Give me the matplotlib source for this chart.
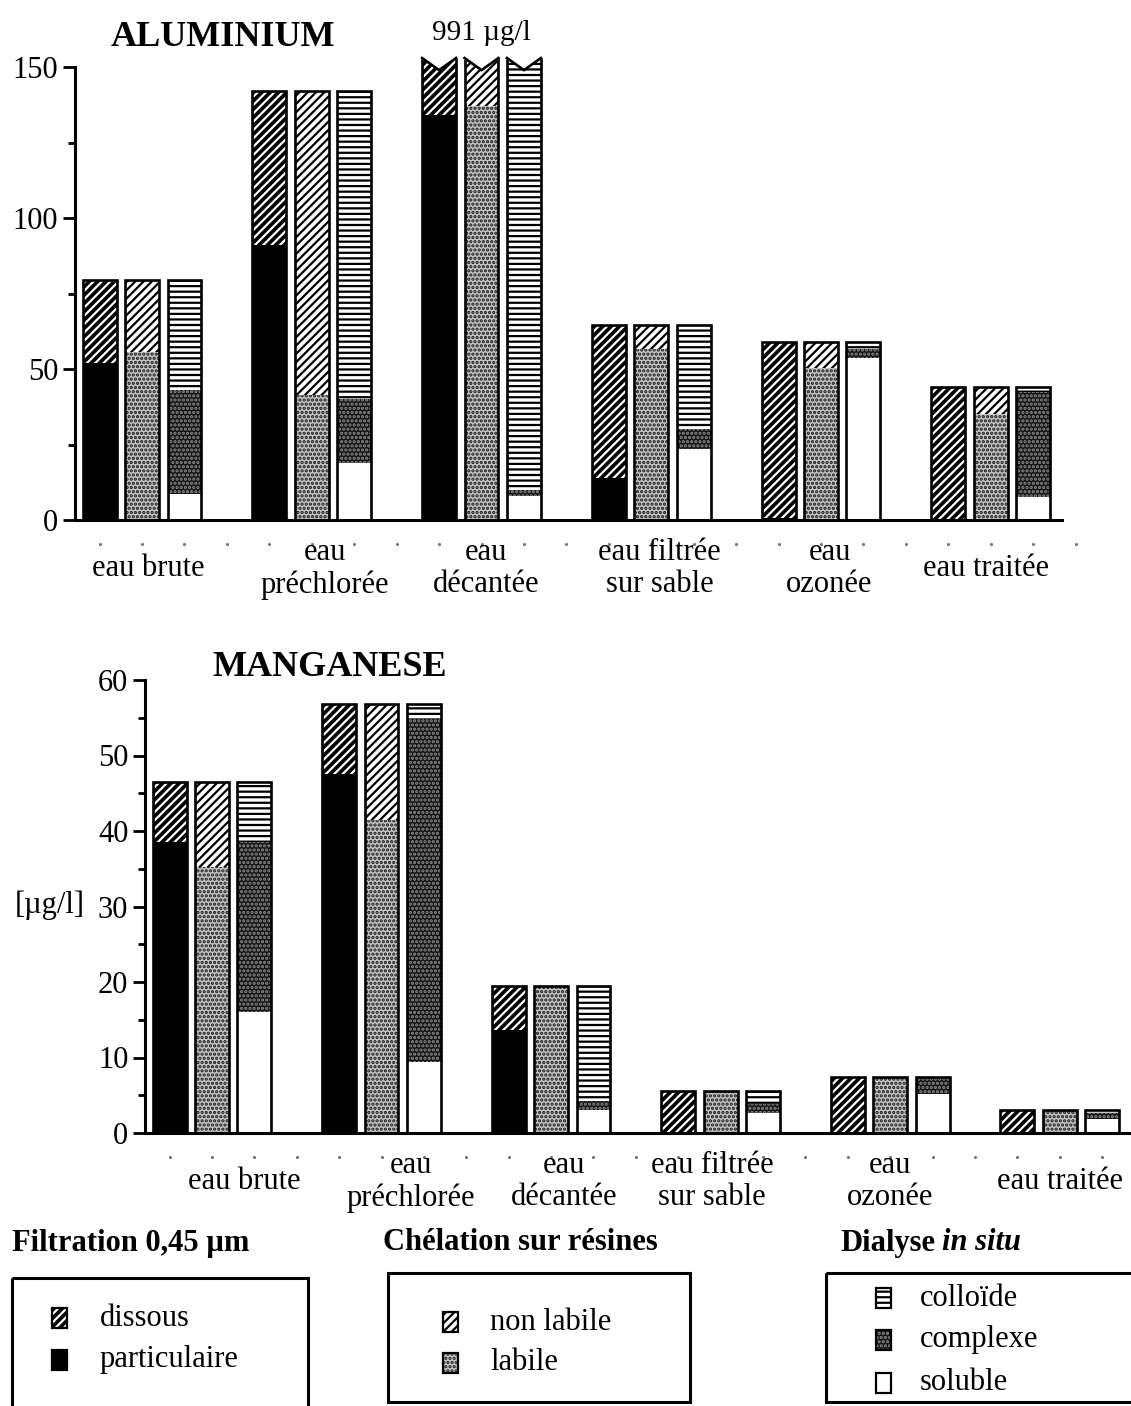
import numpy as np
import matplotlib
matplotlib.use("Agg")
import matplotlib.pyplot as plt
import matplotlib.transforms as mtransforms
from matplotlib.patches import Rectangle, Polygon
from matplotlib.ticker import MultipleLocator

plt.rcParams['font.family'] = ['Liberation Serif', 'DejaVu Serif']
plt.rcParams['hatch.linewidth'] = 1.6

stations = ['eau brute', 'eau\npréchlorée', 'eau\ndécantée',
            'eau filtrée\nsur sable', 'eau\nozonée', 'eau traitée']

# aluminium, µg/l  (eau décantée is off scale: 991 µg/l, drawn cut at the top)
al_particulaire = [52, 91, 134, 14, 0.5, 0]
al_dissous = [27.5, 51, 19, 50.5, 58.5, 44]
al_labile = [55.5, 41.5, 137, 56.5, 50.5, 35]
al_nonlabile = [24, 100.5, 16, 8, 8.5, 9]
al_soluble = [8.5, 19, 8, 23.5, 53.5, 7.5]
al_complexe = [34.5, 21, 2, 6.5, 3, 35]
al_colloide = [36.5, 102, 143, 34.5, 2.5, 1.5]
al_offscale_label = '991 µg/l'
al_offscale_idx = 2

# manganese, µg/l
mn_particulaire = [38.5, 47.5, 13.7, 0, 0, 0]
mn_dissous = [8, 9.3, 5.8, 5.5, 7.4, 3.1]
mn_labile = [35.2, 41.4, 19.5, 5.5, 7.4, 3.1]
mn_nonlabile = [11.3, 15.4, 0, 0, 0, 0]
mn_soluble = [16, 9.4, 3.1, 2.7, 5.2, 1.8]
mn_complexe = [22.6, 45.5, 1.2, 1.1, 2.2, 0.8]
mn_colloide = [7.9, 1.9, 15.2, 1.7, 0, 0.5]

styles = {
    'particulaire': dict(fc='black', hc='black', hatch=None),
    'dissous': dict(fc='black', hc='white', hatch='////'),
    'labile': dict(fc='#c4c4c4', hc='#1a1a1a', hatch='....'),
    'non labile': dict(fc='white', hc='black', hatch='////'),
    'soluble': dict(fc='white', hc='white', hatch=None),
    'complexe': dict(fc='#141414', hc='#8c8c8c', hatch='....'),
    'colloïde': dict(fc='white', hc='black', hatch='---'),
}

W, H = 1131, 1406
fig = plt.figure(figsize=(W / 100, H / 100), dpi=100)
bw = 0.8


def fx(px):
    return px / W


def fy(py):
    return 1 - py / H


def draw_bars(ax, methods):
    for j, layers in enumerate(methods):
        x = np.arange(len(stations)) * 4 + j
        bottom = np.zeros(len(stations))
        for name, vals in layers:
            st = styles[name]
            ax.bar(x, vals, bw, bottom=bottom, color=st['fc'], edgecolor=st['hc'],
                   hatch=st['hatch'], linewidth=0, zorder=2)
            bottom = bottom + np.array(vals)
        ax.bar(x, bottom, bw, fill=False, edgecolor='black', linewidth=1.9, zorder=3)


def style_axis(ax, ymax, major, minor, label_nudge):
    for s in ['top', 'right']:
        ax.spines[s].set_visible(False)
    ax.spines['left'].set_linewidth(2.2)
    ax.spines['bottom'].set_linewidth(2.2)
    ax.spines['left'].set_bounds(0, ymax)
    ax.set_yticks(np.arange(0, ymax + 1, major))
    ax.yaxis.set_minor_locator(MultipleLocator(minor))
    ax.tick_params(axis='y', which='major', length=9, width=2, labelsize=22, pad=3)
    ax.tick_params(axis='y', which='minor', length=5, width=2)
    ax.set_xticks([])
    ax.set_xlim(-0.58, 22.68)
    slots = np.arange(len(stations) * 4)
    dot_tr = mtransforms.offset_copy(ax.get_xaxis_transform(), fig=fig, y=-17, units='points')
    ax.plot(slots, np.zeros_like(slots), ls='none', marker='.', ms=2.5, color='#777777',
            transform=dot_tr, clip_on=False)
    lab_tr = mtransforms.offset_copy(ax.get_xaxis_transform(), fig=fig, y=-35, units='points')
    for g, name in enumerate(stations):
        ax.text(g * 4 + 1 + label_nudge[g], 0, name, transform=lab_tr, ha='center',
                va='center', fontsize=22, linespacing=1.15, multialignment='center')


# ---------------- ALUMINIUM ----------------
ax1 = fig.add_axes([fx(75), fy(520), fx(1062 - 75), (520 - 52) / H])
ax1.set_ylim(0, 155)
cut = 153
al_methods = [
    [('particulaire', al_particulaire), ('dissous', al_dissous)],
    [('labile', al_labile), ('non labile', al_nonlabile)],
    [('soluble', al_soluble), ('complexe', al_complexe), ('colloïde', al_colloide)],
]
draw_bars(ax1, al_methods)
style_axis(ax1, 150, 50, 25, [0.15, 0.3, 0.1, 0.2, 0.2, -0.1])

# broken tops for the off-scale group
for j in range(3):
    xc = al_offscale_idx * 4 + j
    l, r = xc - bw / 2, xc + bw / 2
    ax1.add_patch(Polygon([(l - 0.06, cut + 4), (l - 0.06, cut), (xc, cut - 4),
                           (r + 0.06, cut), (r + 0.06, cut + 4)], closed=True,
                          facecolor='white', edgecolor='none', zorder=4, clip_on=False))
    ax1.plot([l, xc, r], [cut, cut - 4, cut], color='black', lw=1.9, zorder=5,
             clip_on=False, solid_joinstyle='miter')
ax1.annotate(al_offscale_label, xy=(al_offscale_idx * 4 + 1, 155), xytext=(0, 14),
             textcoords='offset points', ha='center', va='center', fontsize=21,
             annotation_clip=False)

fig.text(fx(223), fy(38), 'ALUMINIUM', fontsize=26, fontweight='bold',
         ha='center', va='center')

# ---------------- MANGANESE ----------------
ax2 = fig.add_axes([fx(145), fy(1133), fx(1131 - 145), (1133 - 680) / H])
ax2.set_ylim(0, 60)
mn_methods = [
    [('particulaire', mn_particulaire), ('dissous', mn_dissous)],
    [('labile', mn_labile), ('non labile', mn_nonlabile)],
    [('soluble', mn_soluble), ('complexe', mn_complexe), ('colloïde', mn_colloide)],
]
draw_bars(ax2, mn_methods)
style_axis(ax2, 60, 10, 5, [0.75, 0.7, 0.3, -0.2, 0.0, 0.0])

fig.text(fx(330), fy(668), 'MANGANESE', fontsize=26, fontweight='bold',
         ha='center', va='center')
fig.text(fx(50), fy(905), '[µg/l]', fontsize=22, ha='center', va='center')

# ---------------- legends ----------------
lax = fig.add_axes([0, 0, 1, 1], zorder=-1)
lax.set_xlim(0, W)
lax.set_ylim(H, 0)
lax.axis('off')

lax.text(12, 1243, 'Filtration 0,45 µm', fontsize=22, fontweight='bold', va='center')
lax.text(383, 1243, 'Chélation sur résines', fontsize=22, fontweight='bold', va='center')
lax.text(840, 1243, 'Dialyse', fontsize=22, fontweight='bold', va='center')
lax.text(942, 1243, 'in situ', fontsize=22, fontweight='bold', style='italic', va='center')

legend_boxes = [
    ((12, 1278, 296, 140), 52, 100, [('dissous', 1318), ('particulaire', 1360)]),
    ((388, 1273, 302, 129), 443, 490, [('non labile', 1322), ('labile', 1363)]),
    ((826, 1273, 310, 129), 876, 920, [('colloïde', 1298), ('complexe', 1340), ('soluble', 1383)]),
]
for (bx, by, bwid, bht), sx, tx, items in legend_boxes:
    lax.add_patch(Rectangle((bx, by), bwid, bht, fill=False, edgecolor='black', lw=2.2))
    for name, yy in items:
        st = styles[name]
        lax.add_patch(Rectangle((sx, yy - 10), 15, 20, facecolor=st['fc'],
                                edgecolor=st['hc'], hatch=st['hatch'], lw=0))
        lax.add_patch(Rectangle((sx, yy - 10), 15, 20, fill=False, edgecolor='black', lw=1.6))
        lax.text(tx, yy, name, fontsize=22, va='center')

fig.savefig('out.png', dpi=100)
